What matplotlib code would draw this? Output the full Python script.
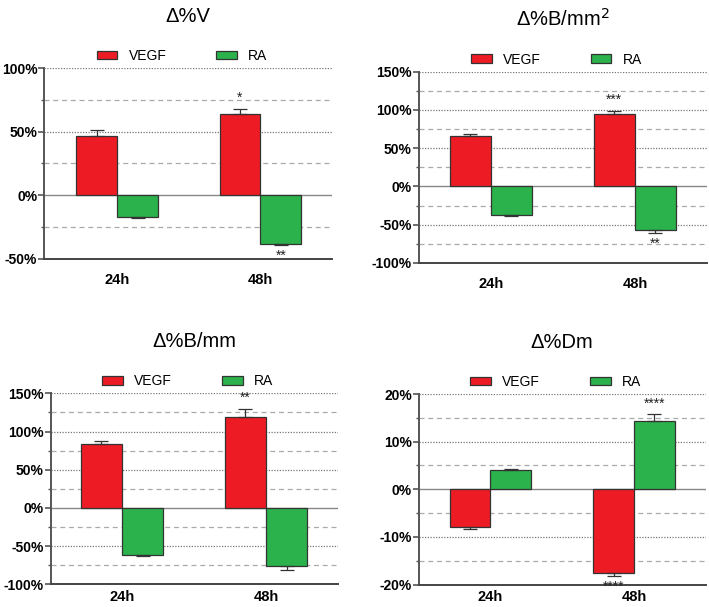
import matplotlib
matplotlib.use("Agg")
import matplotlib.pyplot as plt
from matplotlib.patches import Patch
from matplotlib.ticker import MultipleLocator, FuncFormatter
import numpy as np

plt.rcParams['font.family'] = ['Liberation Sans', 'DejaVu Sans']

categories = ["24h", "48h"]
series_names = ["VEGF", "RA"]

titles = ["Δ%V", "Δ%B/mm$^2$", "Δ%B/mm", "Δ%Dm"]

vegf_vals = [[46.5, 63.6], [66.0, 94.9], [84.0, 118.6], [-7.9, -17.6]]
vegf_errs = [[4.5, 4.2], [2.5, 3.8], [3.7, 11.0], [0.5, 0.7]]
ra_vals = [[-17.0, -37.9], [-37.0, -57.4], [-61.0, -76.4], [4.0, 14.3]]
ra_errs = [[1.0, 1.1], [1.0, 3.5], [1.9, 4.4], [0.25, 1.4]]

vegf_stars = [["", "*"], ["", "***"], ["", "**"], ["", "****"]]
ra_stars = [["", "**"], ["", "**"], ["", ""], ["", "****"]]

ylims = [(-50, 100), (-100, 150), (-100, 150), (-20, 20)]
majors = [50, 50, 50, 10]
xlims = [(-0.508, 1.5), (-0.50, 1.5), (-0.495, 1.5), (-0.50, 1.5)]

positions = [
    [44.3/709, 1-259/607, 287.7/709, 191/607],
    [418.7/709, 1-263/607, 288.3/709, 191.3/607],
    [50.7/709, 1-584.3/607, 287.3/709, 191/607],
    [418.7/709, 1-584.5/607, 287.0/709, 190.5/607],
]
legend_x = [0.479, 0.477, 0.476, 0.477]
xpads = [10, 10, 4, 4]

red = "#ED1C24"
green = "#2BB24C"
edge = "#333333"

fig = plt.figure(figsize=(7.09, 6.07), dpi=100)
w = 0.285
x = np.arange(len(categories))

for i in range(4):
    ax = fig.add_axes(positions[i])
    lo, hi = ylims[i]
    mj = majors[i]
    # grid lines
    for v in np.arange(lo, hi + 0.01, mj / 2):
        if abs(v) < 1e-9 or abs(v - lo) < 1e-9:
            continue
        if abs((v / mj) - round(v / mj)) < 1e-9:
            ax.axhline(v, color="#777777", lw=0.9, ls=(0, (1, 1.2)), zorder=0)
        else:
            ax.axhline(v, color="#aaaaaa", lw=0.9, ls=(0, (4, 3)), zorder=0)
    ax.axhline(0, color="#888888", lw=1.0, zorder=1)

    vv = vegf_vals[i]
    rv = ra_vals[i]
    ve = vegf_errs[i]
    re_ = ra_errs[i]
    ax.bar(x - w/2, vv, w, color=red, edgecolor=edge, linewidth=0.9, zorder=2)
    ax.bar(x + w/2, rv, w, color=green, edgecolor=edge, linewidth=0.9, zorder=2)
    for j in range(len(categories)):
        for xc, val, er in ((x[j] - w/2, vv[j], ve[j]), (x[j] + w/2, rv[j], re_[j])):
            if val >= 0:
                yerr = [[0], [er]]
            else:
                yerr = [[er], [0]]
            ax.errorbar([xc], [val], yerr=yerr, fmt="none", ecolor=edge,
                        elinewidth=0.9, capsize=5, capthick=0.9, zorder=3)
    for j in range(len(categories)):
        for xc, val, er, st in ((x[j] - w/2, vv[j], ve[j], vegf_stars[i][j]),
                                (x[j] + w/2, rv[j], re_[j], ra_stars[i][j])):
            if not st:
                continue
            if val >= 0:
                ax.annotate(st, (xc, val + er), xytext=(0, 3), textcoords="offset points",
                            ha="center", va="bottom", fontsize=10, color="#222222")
            else:
                ax.annotate(st, (xc, val - er), xytext=(0, -2.5), textcoords="offset points",
                            ha="center", va="top", fontsize=10, color="#222222")

    ax.set_xlim(*xlims[i])
    ax.set_ylim(lo, hi)
    ax.yaxis.set_major_locator(MultipleLocator(mj))
    ax.yaxis.set_minor_locator(MultipleLocator(mj/2))
    ax.yaxis.set_major_formatter(FuncFormatter(lambda v, p: f"{int(round(v))}%"))
    ax.set_xticks(x)
    ax.set_xticklabels(categories, fontweight="bold", fontsize=10.5)
    ax.tick_params(axis="x", length=0, pad=xpads[i])
    ax.tick_params(axis="y", which="major", length=4, width=1.2, color="#555555",
                   labelsize=10, pad=1)
    ax.tick_params(axis="y", which="minor", length=2.5, width=1.0, color="#555555")
    for lab in ax.get_yticklabels():
        lab.set_fontweight("bold")
    for s in ("top", "right"):
        ax.spines[s].set_visible(False)
    ax.spines["left"].set_color("#555555")
    ax.spines["left"].set_linewidth(1.4)
    ax.spines["bottom"].set_color("#444444")
    ax.spines["bottom"].set_linewidth(1.4)

    handles = [Patch(facecolor=red, edgecolor=edge, linewidth=0.9),
               Patch(facecolor=green, edgecolor=edge, linewidth=0.9)]
    ax.legend(handles, series_names, ncol=2, frameon=False, loc="lower center",
              bbox_to_anchor=(legend_x[i], 0.99), fontsize=10,
              handlelength=1.5, handleheight=0.6, handletextpad=0.8,
              columnspacing=3.6, borderaxespad=0.1)
    ax.set_title(titles[i], fontsize=14.5, pad=33)

fig.savefig("out.png", dpi=100)
